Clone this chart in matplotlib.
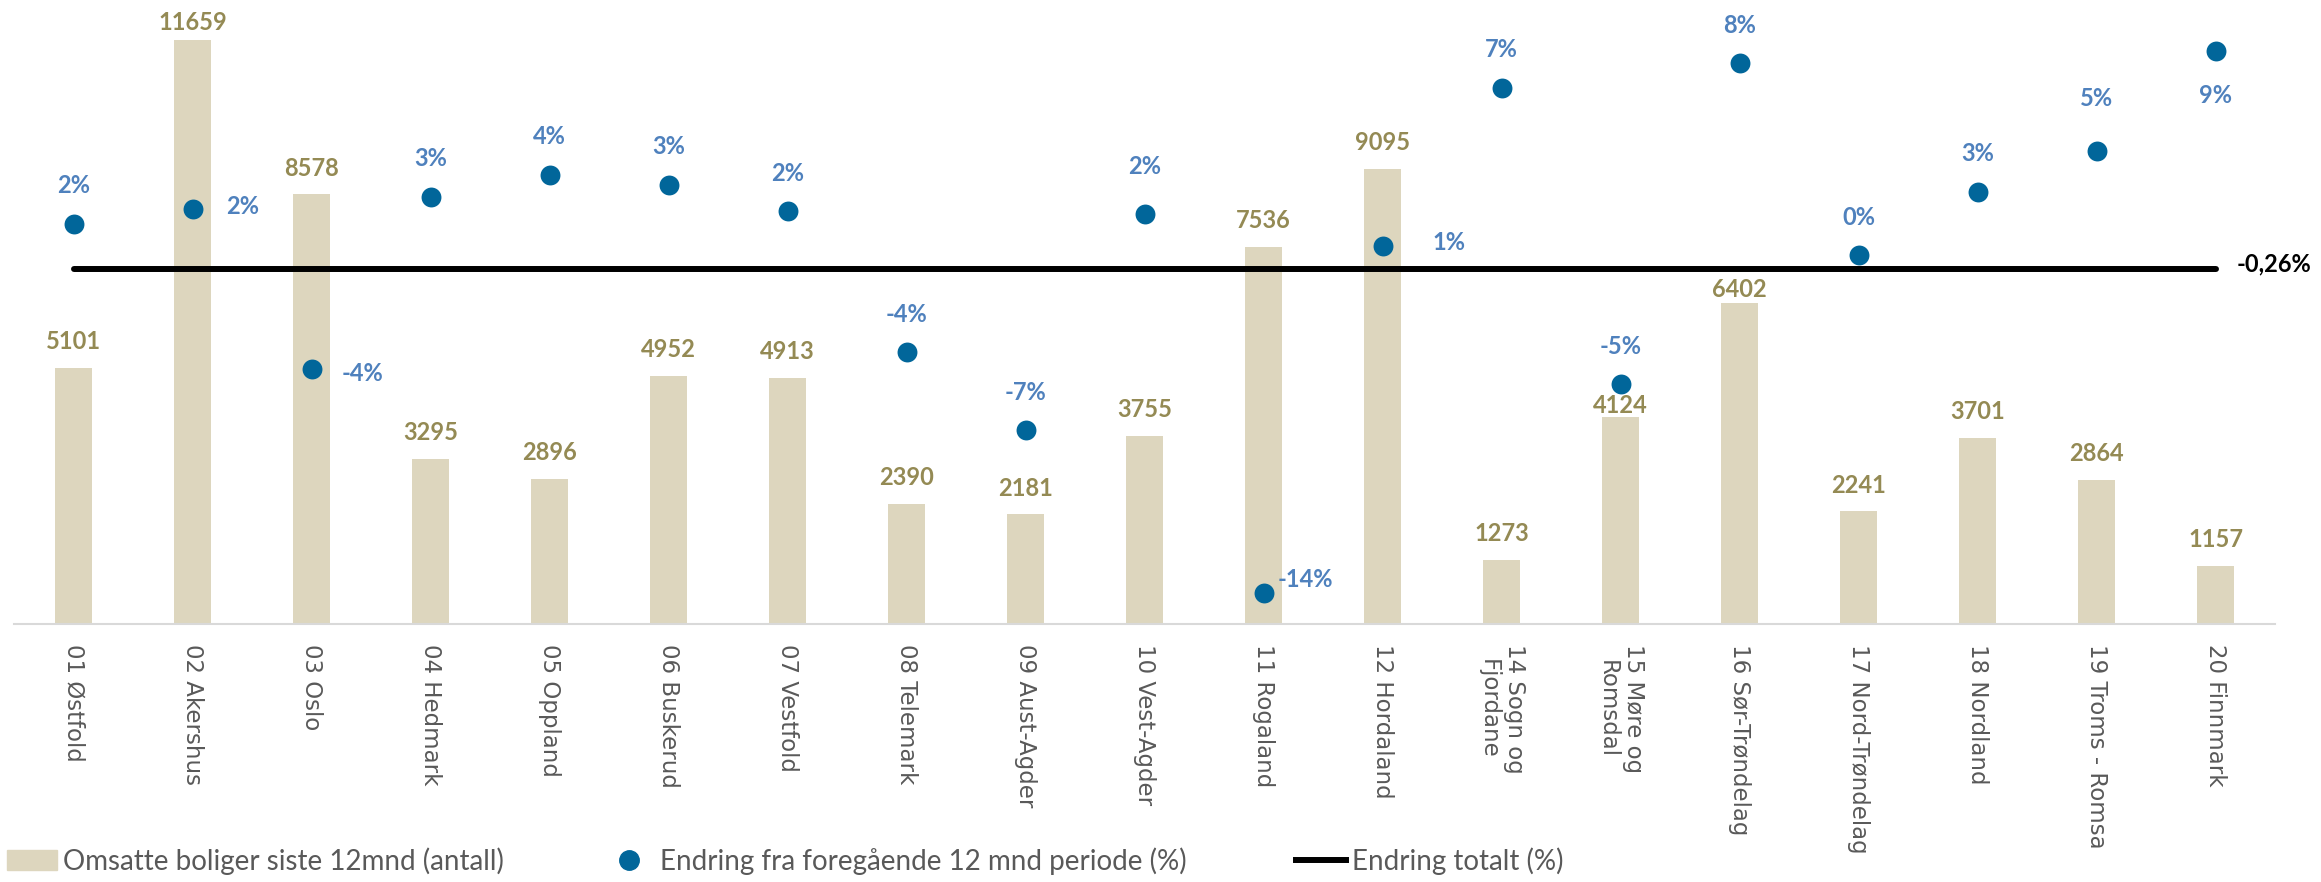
import matplotlib.pyplot as plt
import numpy as np
from matplotlib.patches import Patch
from matplotlib.lines import Line2D

# Data
regions = ["01 Østfold", "02 Akershus", "03 Oslo", "04 Hedmark", "05 Oppland",
           "06 Buskerud", "07 Vestfold", "08 Telemark", "09 Aust-Agder",
           "10 Vest-Agder", "11 Rogaland", "12 Hordaland", "14 Sogn og\nFjordane",
           "15 Møre og\nRomsdal", "16 Sør-Trøndelag", "17 Nord-Trøndelag",
           "18 Nordland", "19 Troms - Romsa", "20 Finnmark"]
sold = [5101, 11659, 8578, 3295, 2896, 4952, 4913, 2390, 2181, 3755,
        7536, 9095, 1273, 4124, 6402, 2241, 3701, 2864, 1157]
change_pct = [1.6, 2.2, -4.4, 2.7, 3.6, 3.2, 2.1, -3.7, -6.9, 2.0,
              -13.6, 0.7, 7.2, -5.0, 8.2, 0.3, 2.9, 4.6, 8.7]
total_pct = -0.26

# Colours
BAR = '#DDD6BE'
BAR_TXT = '#948A54'
DOT = '#01669A'
PCT_TXT = '#4F81BD'
GREY = '#595959'

W, H = 2321, 882
fig = plt.figure(figsize=(W / 100, H / 100), dpi=100)
ax = fig.add_axes([14 / W, (H - 623.5) / H, (2275 - 14) / W, 623.5 / H])

x = np.arange(len(regions))
ax.bar(x, sold, width=0.31, color=BAR, zorder=2)
ax.set_xlim(-0.5, len(regions) - 0.5)
ax.set_ylim(0, 12465)
for s in ['top', 'left', 'right']:
    ax.spines[s].set_visible(False)
ax.spines['bottom'].set_color('#D9D9D9')
ax.spines['bottom'].set_linewidth(1.5)
ax.set_yticks([])
ax.set_xticks(x)
ax.set_xticklabels(regions, rotation=270, fontsize=16.5, color=GREY,
                   family='DejaVu Sans', multialignment='center')
ax.tick_params(axis='x', length=0, pad=15)

# bar value labels (offset in points above the bar top)
bar_off = {1: 13, 13: 8.5, 14: 10}
for i, v in enumerate(sold):
    ax.annotate(str(v), (i, v), xytext=(0, bar_off.get(i, 19)),
                textcoords='offset points', ha='center', va='center',
                fontsize=17, fontweight='bold', color=BAR_TXT, family='Lato')

# secondary axis: percentage change
ax2 = ax.twinx()
ax2.set_ylim(-14.85, 10.80)
ax2.set_yticks([])
for s in ax2.spines.values():
    s.set_visible(False)

ax2.plot(x, np.full(len(x), total_pct), color='black', lw=4.3,
         solid_capstyle='round', zorder=2)
ax2.scatter(x, change_pct, s=205, color=DOT, zorder=3, linewidths=0)

pct_off = {1: (36, 2), 2: (37, -3), 9: (0, 34), 10: (30, 9.6),
           11: (48, 2), 17: (0, 37.4), 18: (0, -32)}
for i, v in enumerate(change_pct):
    ax2.annotate(f"{round(v):d}%", (i, v), xytext=pct_off.get(i, (0, 27.4)),
                 textcoords='offset points', ha='center', va='center',
                 fontsize=17, fontweight='bold', color=PCT_TXT, family='Lato')

ax2.annotate(f"{total_pct:.2f}%".replace('.', ','), (x[-1], total_pct),
             xytext=(15, 3.6), textcoords='offset points', ha='left',
             va='center', fontsize=17, fontweight='bold', color='black',
             family='Lato')

# Legend: three separate entries along the bottom
leg_kw = dict(loc='center left', frameon=False, borderaxespad=0, borderpad=0,
              handletextpad=0.2, handlelength=1.8,
              prop={'family': 'Lato', 'size': 20})
items = [
    (Patch(color=BAR), "Omsatte boliger siste 12mnd (antall)", 7),
    (Line2D([], [], ls='none', marker='o', ms=14, color=DOT),
     "Endring fra foregående 12 mnd periode (%)", 604),
    (Line2D([], [], color='black', lw=4.3), "Endring totalt (%)", 1296),
]
for handle, label, px in items:
    lg = fig.legend([handle], [label], bbox_to_anchor=(px / W, 21 / H), **leg_kw)
    for t in lg.get_texts():
        t.set_color(GREY)

fig.savefig('out.png', dpi=100)
